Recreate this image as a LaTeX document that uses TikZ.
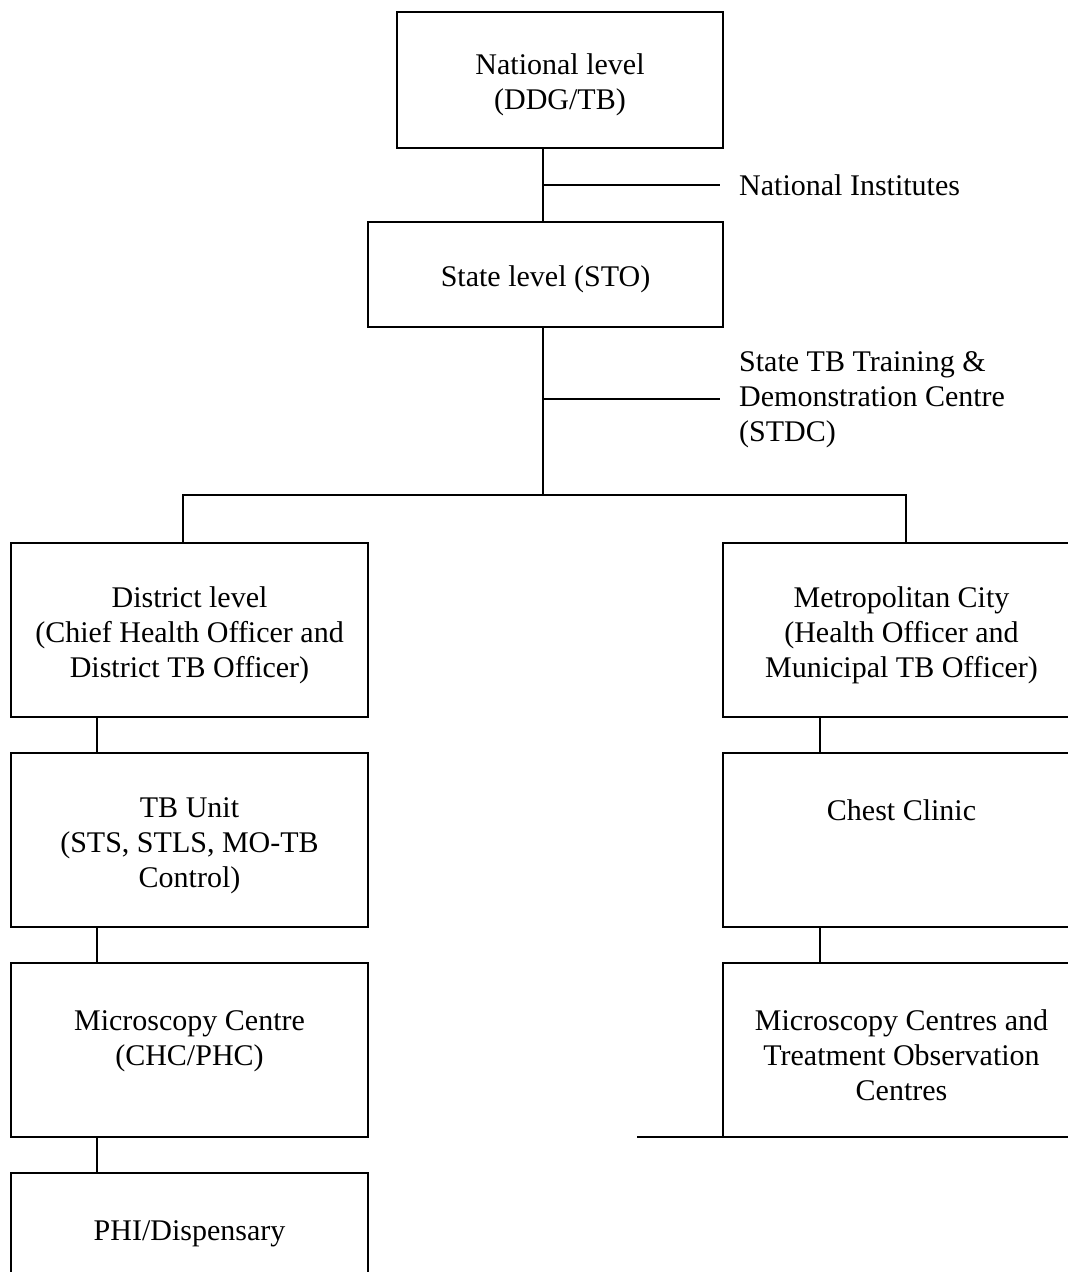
\documentclass[tikz,border=0pt]{standalone}
\usepackage{fontspec}
\setmainfont{Liberation Serif}
\newcommand{\topgap}{\rule{0pt}{15.5pt}}
\tikzset{
  level/.style={draw,line width=1.2pt,align=center,minimum width=178.5pt,minimum height=87pt,inner sep=0pt,outer sep=0pt},
  side/.style={align=left,anchor=west,inner xsep=9pt,inner ysep=0pt}
}
\begin{document}
\begin{tikzpicture}[x=0.5pt,y=-0.5pt,line width=1.2pt,font=\fontsize{15}{17.5}\selectfont]
\clip (0,0) rectangle (1068,1272);
\useasboundingbox (0,0) rectangle (1068,1272);
% top of the chart
\node[level,minimum width=163pt,minimum height=68pt] (national) at (560,80) {\topgap National level\\(DDG/TB)};
\node[level,minimum width=177.5pt,minimum height=52.5pt] (state) at (545.5,274.5) {\topgap State level (STO)};
\node[side] (institutes) at (720,185) {National Institutes};
\node[side] (stdc) at (720,400) {State TB Training \&\\Demonstration Centre\\(STDC)};
% district side
\node[level] (district) at (189.5,630) {\topgap District level\\(Chief Health Officer and\\District TB Officer)};
\node[level] (tbunit) at (189.5,840) {\topgap TB Unit\\(STS, STLS, MO-TB\\Control)};
\node[level] (micro) at (189.5,1050) {\topgap Microscopy Centre\\(CHC/PHC)\\~};
\node[level] (phi) at (189.5,1260) {\topgap PHI/Dispensary\\~\\~};
% city side
\node[level] (metro) at (901.5,630) {\topgap Metropolitan City\\(Health Officer and\\Municipal TB Officer)};
\node[level] (chest) at (901.5,840) {\topgap Chest Clinic\\~\\~};
\node[level] (tocentres) at (901.5,1050) {\topgap Microscopy Centres and\\Treatment Observation\\Centres};
\coordinate (split) at (543,495);
\coordinate (baseend) at (637,1137);
% connectors
\draw (national.south -| 543,0) -- (state.north -| 543,0);
\draw (543,185) -- (institutes.west);
\draw (state.south -| split) -- (split);
\draw (split |- 0,399) -- (stdc.west |- 0,399);
\draw (district.north -| 183,0) -- (183,495) -- (906,495) -- (metro.north -| 906,0);
\draw (district.south -| 97,0) -- (tbunit.north -| 97,0);
\draw (tbunit.south -| 97,0) -- (micro.north -| 97,0);
\draw (micro.south -| 97,0) -- (phi.north -| 97,0);
\draw (metro.south -| 820,0) -- (chest.north -| 820,0);
\draw (chest.south -| 820,0) -- (tocentres.north -| 820,0);
\draw (baseend) -- (tocentres.south west);
\end{tikzpicture}
\end{document}
